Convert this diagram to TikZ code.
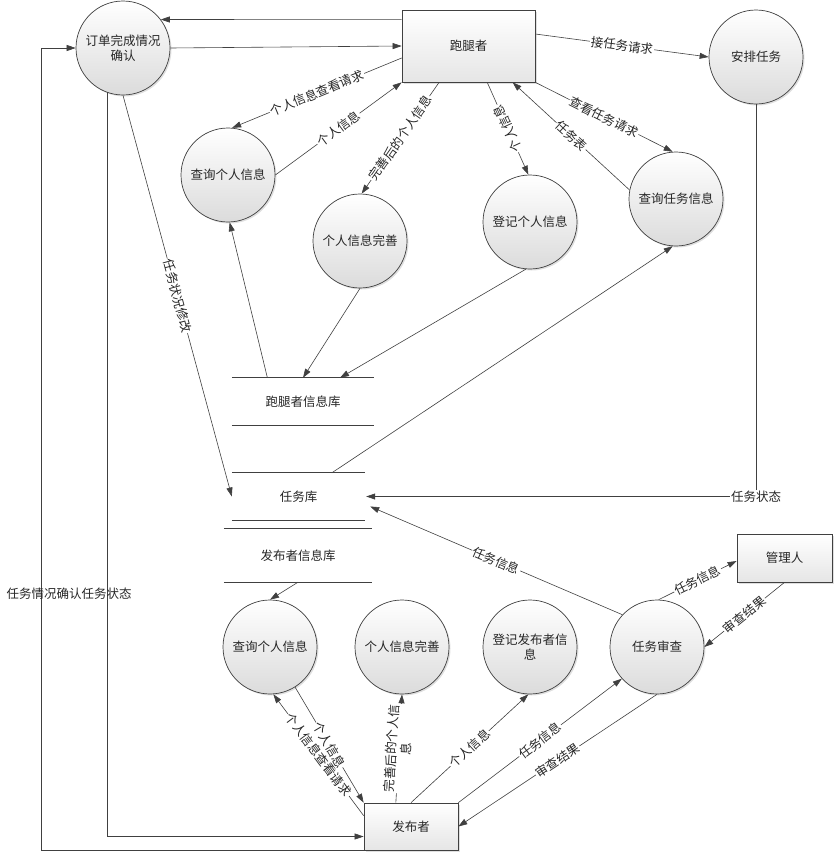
\documentclass[tikz,border=0pt]{standalone}
\usepackage{fontspec}
\setmainfont{Noto Sans CJK SC}
\usetikzlibrary{arrows.meta,shadows,calc}
\definecolor{ln}{HTML}{404040}
\definecolor{txt}{HTML}{262626}
\tikzset{
  proc/.style={circle, draw=ln, line width=0.7pt, minimum size=94pt, inner sep=0pt,
    top color=white, bottom color=black!14, align=center, text=txt,
    drop shadow={shadow xshift=1.5pt, shadow yshift=-1.5pt, opacity=.25}},
  ent/.style={rectangle, draw=ln, line width=0.7pt, top color=white, bottom color=black!10,
    text=txt, drop shadow={shadow xshift=1.5pt, shadow yshift=-1.5pt, opacity=.25}},
  store/.style={rectangle, draw=none, inner sep=0pt, text=txt},
  storeline/.style={draw=ln, line width=0.7pt},
  flow/.style={draw=ln, line width=0.6pt, -{Triangle[length=9pt,width=6pt]}},
  lbl/.style={fill=white, inner sep=1pt, sloped, text=txt},
}
\begin{document}
\begin{tikzpicture}[x=1pt, y=-1pt, font=\fontsize{12.5}{15}\selectfont]
\useasboundingbox (0,0) rectangle (835,854);

% processes
\node[proc] (cO)  at (123,48)  {订单完成情况\\确认};
\node[proc] (cA)  at (756,57)  {安排任务};
\node[proc] (cQ1) at (228,175) {查询个人信息};
\node[proc] (cW1) at (360,241) {个人信息完善};
\node[proc] (cD1) at (530,222) {登记个人信息};
\node[proc] (cT)  at (676,199) {查询任务信息};
\node[proc] (cQ2) at (270,647) {查询个人信息};
\node[proc] (cW2) at (402,647) {个人信息完善};
\node[proc] (cD2) at (530,647) {登记发布者信\\息};
\node[proc] (cS)  at (657,647) {任务审查};

% external entities
\node[ent, minimum width=133pt, minimum height=72pt] (rR) at (468.5,46) {跑腿者};
\node[ent, minimum width=95pt, minimum height=48pt] (rM) at (784.5,558) {管理人};
\node[ent, minimum width=94pt, minimum height=47pt] (rP) at (411,826.5) {发布者};

% data stores
\node[store, minimum width=142pt, minimum height=47pt] (dbR) at (303,401.5) {跑腿者信息库};
\node[store, minimum width=133pt, minimum height=47pt] (dbT) at (298.5,496.5) {任务库};
\node[store, minimum width=148pt, minimum height=53pt] (dbP) at (298,555.5) {发布者信息库};
\foreach \s in {dbR,dbT,dbP}
  \draw[storeline] (\s.north west) -- (\s.north east) (\s.south west) -- (\s.south east);

% runner side
\draw[flow] ([yshift=-10pt]rR.north west) -- (cO.37);
\draw[flow] (cO.east) -- (rR.west);
\draw[flow] ([yshift=-12pt]rR.west) -- node[lbl]{个人信息查看请求} (cQ1.85);
\draw[flow] (cQ1.east) -- node[lbl]{个人信息} (rR.south west);
\draw[flow] ($(rR.south west)!0.28!(rR.south east)$) -- node[lbl]{完善后的个人信息} (cW1.88);
\draw[flow] ($(rR.south west)!0.64!(rR.south east)$) -- node[fill=white, inner sep=1pt, rotate=115, text=txt]{个人信息} (cD1.92);
\draw[flow] (cT.169) -- node[lbl]{任务表} ($(rR.south west)!0.83!(rR.south east)$);
\draw[flow] (rR.south east) -- node[lbl]{查看任务请求} (cT.94);
\draw[flow] ([yshift=12pt]rR.east) -- node[lbl]{接任务请求} (cA.west);
\draw[flow] (cA.south) |- node[pos=.5, fill=white, inner sep=1pt, text=txt]{任务状态} ([xshift=1pt]dbT.east);
\draw[flow] (cO.south) -- node[lbl]{任务状况修改} (dbT.west);
\draw[flow] (cO.-110) |- ([yshift=-10pt]rP.west);
\coordinate (lft) at (41,48);
\draw[flow] (rP.south west) -| node[pos=.66, xshift=28pt, text=txt]{任务情况确认任务状态} (lft) -- (cO.west);

% stores and runner processes
\draw[flow] ($(dbT.north west)!0.75!(dbT.north east)$) -- (cT.-94);
\draw[flow] (cW1.south) -- (dbR.north);
\draw[flow] (cD1.-95) -- ($(dbR.north west)!0.76!(dbR.north east)$);
\draw[flow] ($(dbR.north west)!0.25!(dbR.north east)$) -- (cQ1.-88);

% review
\draw[flow] (cS.137) -- node[lbl]{任务信息} ([xshift=5pt,yshift=-10pt]dbT.east);
\draw[flow] (cS.88) -- node[lbl]{任务信息} ([yshift=-3pt]rM.west);
\draw[flow] (rM.south) -- node[lbl]{审查结果} (cS.east);

% publisher side
\draw[flow] (dbP.south) -- (cQ2.north);
\draw[flow] ([yshift=-13pt]rP.north west) -- node[lbl]{个人信息查看请求} (cQ2.-86);
\draw[flow] (cQ2.-58) -- node[lbl]{个人信息} (rP.north west);
\draw[flow] ($(rP.north west)!0.34!(rP.north east)$) -- node[lbl, align=center]{完善后的个人信\\息} (cW2.south);
\draw[flow] (rP.north) -- node[lbl]{个人信息} (cD2.-92);
\draw[flow] (rP.north east) -- node[lbl]{任务信息} (cS.-138);
\draw[flow] (cS.south) -- node[lbl]{审查结果} (rP.east);
\end{tikzpicture}
\end{document}
